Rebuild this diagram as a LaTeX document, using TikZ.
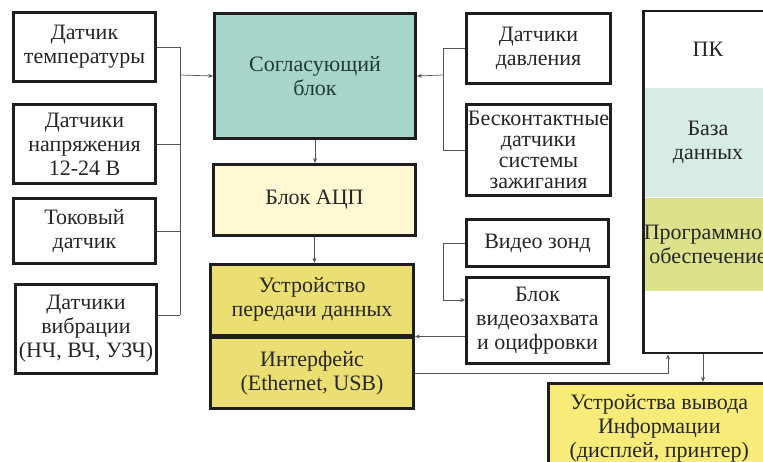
\documentclass[tikz,border=0pt]{standalone}
\usepackage{fontspec}
\setmainfont{Liberation Serif}
\usetikzlibrary{arrows.meta,positioning,fit}
\definecolor{framegray}{HTML}{1E1E1E}
\definecolor{wiregray}{HTML}{555555}
\definecolor{textgray}{HTML}{262626}
\definecolor{textteal}{HTML}{1F3A38}
\definecolor{fillmatch}{HTML}{A8D5CB}
\definecolor{filladc}{HTML}{FFF8D3}
\definecolor{fillusb}{HTML}{EBDF73}
\definecolor{fillout}{HTML}{F7EC79}
\definecolor{filldb}{HTML}{D7ECE4}
\definecolor{fillsw}{HTML}{DCE18C}

\begin{document}
\begin{tikzpicture}[
  x=1pt,y=-1pt,
  font=\fontsize{22}{24}\selectfont,
  text=textgray,
  >={Stealth[length=5pt,width=4pt]},
  box/.style={draw=framegray,line width=2.8pt,align=center,inner sep=1pt},
  wire/.style={draw=wiregray,line width=0.7pt},
  sect/.style={align=center,minimum width=129pt,inner sep=0pt},
]
\useasboundingbox (0,0) rectangle (763,462);
\clip (0,0) rectangle (763,462);

% ============ left: sensors ============
\node[box,minimum width=142pt,minimum height=69pt] (temp) at (84.5,47) {Датчик\\температуры};
\node[box,minimum width=142pt,minimum height=79pt] (volt) at (84.5,144) {Датчики\\напряжения\\12-24 В};
\node[box,minimum width=142pt,minimum height=65pt] (curr) at (84.5,231) {Токовый\\датчик};
\node[box,minimum width=141pt,minimum height=89pt] (vibr) at (86,329) {Датчики\\вибрации\\(НЧ, ВЧ, УЗЧ)};

% ============ middle: processing chain ============
\node[box,fill=fillmatch,text=textteal,minimum width=201pt,minimum height=125pt] (match) at (315,76) {Согласующий\\блок};
\node[box,fill=filladc,minimum width=202pt,minimum height=71pt] (adc) at (314.5,200) {Блок АЦП};
\node[box,fill=fillusb,minimum width=203pt,minimum height=70.7pt] (trans) at (312,299.6) {Устройство\\передачи данных};
\node[box,fill=fillusb,minimum width=203pt,minimum height=70.7pt,below=0pt of trans] (iface) {Интерфейс\\(Ethernet, USB)};

% ============ right: sensors and video ============
\node[box,minimum width=144pt,minimum height=70pt] (pres) at (538.5,48.5) {Датчики\\давления};
\node[box,minimum width=144pt,minimum height=91pt,font=\fontsize{22}{21}\selectfont] (ign) at (538.5,150) {Бесконтактные\\датчики\\системы\\зажигания};
\node[box,minimum width=142pt,minimum height=47pt] (probe) at (537.5,243) {Видео зонд};
\node[box,minimum width=142pt,minimum height=86pt] (cap) at (537.5,320.5) {Блок\\видеозахвата\\и оцифровки};

% ============ PC ============
\node[sect,minimum height=76.7pt] (pchead) at (708,49.6) {ПК};
\node[sect,fill=filldb,minimum height=109pt,below=0pt of pchead] (pcdb) {База\\данных};
\node[sect,fill=fillsw,minimum height=93pt,below=0pt of pcdb] (pcsw) {Программное\\обеспечение};
\node[sect,minimum height=61.7pt,below=0pt of pcsw] (pcfoot) {};
\node[draw=framegray,line width=2.8pt,inner sep=0pt,fit=(pchead)(pcfoot)] (pc) {};

\node[box,fill=fillout,minimum width=222pt,minimum height=90pt] (out) at (659.3,428.3) {Устройства вывода\\Информации\\(дисплей, принтер)};

% ============ wires ============
\coordinate (lbus) at (180,75);
\foreach \s in {temp,volt,curr}
  \draw[wire] (\s.east) -- (\s.east -| lbus);
\draw[wire] ([yshift=14pt]vibr.east) -- ([yshift=14pt]vibr.east -| lbus);
\draw[wire] (temp.east -| lbus) -- ([yshift=14pt]vibr.east -| lbus);
\draw[wire,->] (lbus) -- (match.west);

\coordinate (rbus) at (443,75);
\foreach \s in {pres,ign}
  \draw[wire] (\s.west) -- (\s.west -| rbus);
\draw[wire] (pres.west -| rbus) -- (ign.west -| rbus);
\draw[wire,->] (rbus) -- (match.east);

\draw[wire,->] (match.south) -- (match.south |- adc.north);
\draw[wire,->] (adc.south) -- (adc.south |- trans.north);

\coordinate (vbus) at (443,300);
\draw[wire,->] (probe.west) -| (vbus) -- (vbus -| cap.west);
\draw[wire,->] ([yshift=-16pt]cap.west) -- ([yshift=-16pt]cap.west -| iface.east);

\draw[wire,->] (iface.east) -| ([xshift=-40pt]pc.south);
\draw[wire,->] ([xshift=-5pt]pc.south) -- ([xshift=-5pt]pc.south |- out.north);

\end{tikzpicture}
\end{document}
